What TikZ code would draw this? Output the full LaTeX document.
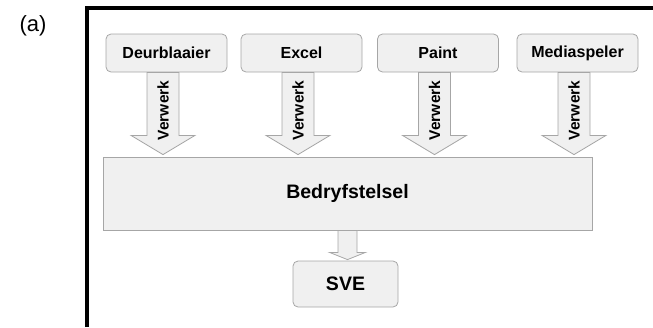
\documentclass[tikz,border=0pt]{standalone}
\usepackage{fontspec}
\setmainfont{Liberation Sans}
\usetikzlibrary{calc}
\definecolor{boxfill}{HTML}{F0F0F0}
\definecolor{boxline}{HTML}{A6A6A6}

\begin{document}
\begin{tikzpicture}[
    x=1pt, y=-1pt,
    app/.style={draw=boxline, fill=boxfill, line width=0.8pt, rounded corners=5pt, minimum width=121pt, minimum height=38pt, font=\fontsize{16}{19}\selectfont\bfseries},
    os/.style={draw=boxline, fill=boxfill, line width=0.8pt, minimum width=489pt, minimum height=73pt, font=\fontsize{19.5}{22}\selectfont\bfseries},
    fatarrow/.style={draw=boxline, fill=boxfill, line width=0.8pt, line join=miter},
    verb/.style={font=\fontsize{15.5}{18}\selectfont\bfseries, inner sep=0pt}
]
    \useasboundingbox (0,0) rectangle (653,327);

    % Frame and label
    \draw[line width=3.5pt] (87,327) -- (87,8) -- (653,8);
    \node[font=\fontsize{22}{26}\selectfont] (label) at (33,26) {(a)};

    % Application boxes
    \foreach \name/\x/\txt in {deur/166.5/Deurblaaier, excel/301.5/Excel, paint/438/Paint, media/577.5/Mediaspeler} {
        \node[app] (\name) at (\x,53) {\txt};
    }

    % Operating system and CPU
    \node[os] (os) at (347.5,193.5) {Bedryfstelsel};
    \node[app, minimum width=105pt, minimum height=46pt, font=\fontsize{19.5}{22}\selectfont\bfseries] (sve) at (345.5,284) {SVE};

    % Arrows from the applications
    \foreach \name in {deur,excel,paint,media} {
        \coordinate (c) at ($(\name.south)+(-3.5,0)$);
        \draw[fatarrow] ($(c)+(-16,0)$) -- ++(0,63) -- ++(-16,0)
            -- ($(c |- os.north)+(0,-2)$) -- ($(c)+(32,63)$) -- ++(-16,0)
            -- ($(c)+(16,0)$) -- cycle;
        \node[verb, rotate=90] (v\name) at ($(c)+(0,38)$) {Verwerk};
    }

    % Arrow to the CPU
    \coordinate (d) at (os.south);
    \draw[fatarrow] ($(d)+(-9.5,0)$) -- ++(0,22) -- ++(-8.5,0)
        -- ($(d |- sve.north)+(0,-1)$) -- ($(d)+(18,22)$) -- ++(-8.5,0)
        -- ($(d)+(9.5,0)$) -- cycle;

\end{tikzpicture}
\end{document}
